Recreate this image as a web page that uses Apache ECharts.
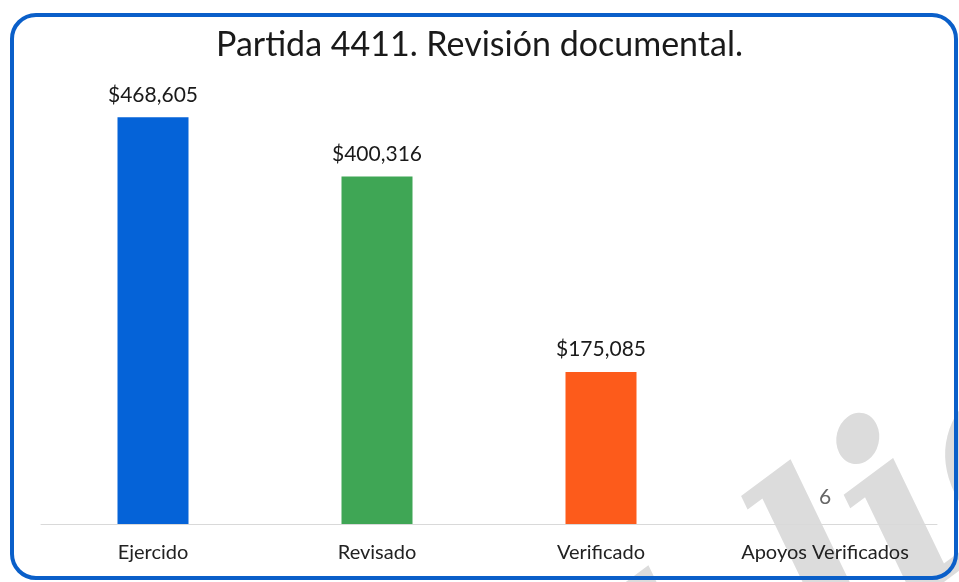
<!DOCTYPE html>
<html>
<head>
<meta charset="utf-8">
<script src="https://cdn.jsdelivr.net/npm/echarts@6/dist/echarts.min.js"></script>
<style>
  html, body { margin: 0; padding: 0; background: #fff; }
  #main { width: 959px; height: 582px; }
</style>
</head>
<body>
<div id="main"></div>
<script>
var categories = ['Ejercido', 'Revisado', 'Verificado', 'Apoyos Verificados'];
var values = [468605, 400316, 175085, 6];
var barColors = ['#0563d8', '#3fa655', '#fd5b1b', '#a5a5a5'];
var labelTexts = ['$468,605', '$400,316', '$175,085', '6'];

var chart = echarts.init(document.getElementById('main'));

var option = {
  backgroundColor: '#fff',
  title: {
    text: 'Partida 4411. Revisión documental.',
    left: 'center',
    top: 23,
    textStyle: { fontFamily: 'Lato', fontWeight: 'normal', fontSize: 34, color: '#1a1a1a' }
  },
  graphic: [
    // marca de agua del escaneo
    {
      type: 'text',
      x: 432, y: 1038,
      rotation: 0.64,
      z: -10,
      silent: true,
      style: {
        text: 'Pública',
        font: 'italic bold 250px "DejaVu Serif"',
        fill: '#dcdcdc',
        align: 'left',
        verticalAlign: 'bottom'
      }
    },
    {
      type: 'rect',
      z: 100,
      silent: true,
      shape: { x: 12, y: 15, width: 944, height: 563, r: 24 },
      style: { fill: 'none', stroke: '#0a5fc9', lineWidth: 4 }
    }
  ],
  grid: { left: 41, right: 22, top: 90, bottom: 58 },
  xAxis: {
    type: 'category',
    data: categories,
    axisLine: { lineStyle: { color: '#d9d9d9', width: 1 } },
    axisTick: { show: false },
    axisLabel: { interval: 0, fontFamily: 'Lato', fontSize: 20, color: '#222', margin: 19 }
  },
  yAxis: {
    type: 'value',
    min: 0,
    max: 500000,
    show: false,
    splitLine: { show: false }
  },
  series: [{
    type: 'bar',
    barWidth: 71,
    data: values.map(function (v, i) {
      return {
        value: v,
        itemStyle: { color: barColors[i] },
        label: i === 3 ? { color: '#666', distance: 16 } : { color: '#1a1a1a' }
      };
    }),
    label: {
      show: true,
      position: 'top',
      distance: 12,
      fontFamily: 'Lato',
      fontSize: 21,
      formatter: function (p) { return labelTexts[p.dataIndex]; }
    }
  }]
};

chart.setOption(option);
</script>
</body>
</html>
